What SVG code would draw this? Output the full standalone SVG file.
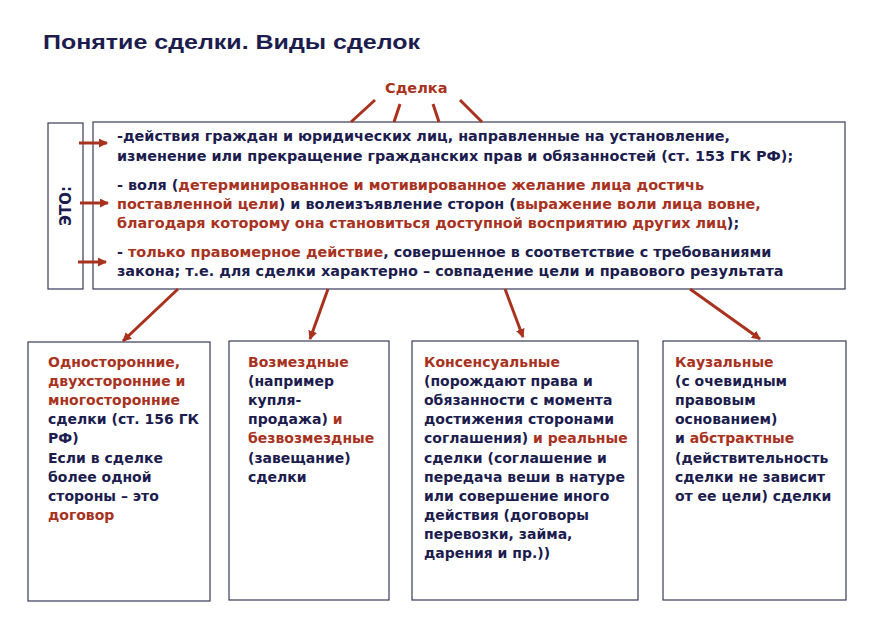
<svg xmlns="http://www.w3.org/2000/svg" width="891" height="630" viewBox="0 0 891 630">
<defs>
<marker id="ah" markerWidth="9" markerHeight="9" refX="8" refY="4.5" orient="auto" markerUnits="userSpaceOnUse"><path d="M0,0 L9,4.5 L0,9 Z" fill="#a8321e"/></marker>
<style>
text{font-family:"DejaVu Sans",Verdana,sans-serif;font-weight:bold;font-size:14px;fill:#1c1c4e}
.m{font-size:14.4px}
.r{fill:#a8321e}
.box{fill:#fff;stroke:#3a3a5a;stroke-width:1.2}
.ln{stroke:#a8321e;stroke-width:3;fill:none}
</style>
</defs>
<rect width="891" height="630" fill="#fff"/>
<text x="43" y="49" textLength="377" lengthAdjust="spacingAndGlyphs" style="font-size:21px;font-family:'Liberation Sans',Arial,sans-serif" fill="#1c1c4e">Понятие сделки. Виды сделок</text>
<g id="sdelka"><text x="385" y="93" class="r" style="font-size:14.5px">Сделка</text></g>
<g id="eto">
<rect class="box" x="48" y="123" width="35" height="166"/>
<text transform="translate(71,206) rotate(-90)" text-anchor="middle" style="font-size:15px">ЭТО:</text>
</g>
<g id="main">
<rect class="box" x="93" y="122" width="752" height="167"/>
<text class="m" x="117" y="141">-действия  граждан и юридических лиц, направленные на установление,</text>
<text class="m" x="117" y="161">изменение или прекращение гражданских прав и обязанностей (ст. 153 ГК РФ);</text>
<text class="m" x="117" y="190">- воля (<tspan class="r">детерминированное и мотивированное желание лица достичь</tspan></text>
<text class="m" x="117" y="209"><tspan class="r">поставленной цели</tspan>) и волеизъявление сторон (<tspan class="r">выражение воли лица вовне,</tspan></text>
<text class="m r" x="117" y="228">благодаря которому она становиться доступной восприятию других лиц<tspan fill="#1c1c4e">);</tspan></text>
<text class="m" x="117" y="257">- <tspan class="r">только правомерное действие</tspan>, совершенное в соответствие с требованиями</text>
<text class="m" x="117" y="276">закона; т.е. для сделки характерно – совпадение цели и правового результата</text>
</g>
<g id="b1">
<rect class="box" x="28" y="342" width="182" height="259"/>
<text x="48" y="367" class="r">Односторонние,</text>
<text x="48" y="386" class="r">двухсторонние и</text>
<text x="48" y="405" class="r">многосторонние</text>
<text x="48" y="424">сделки (ст. 156 ГК</text>
<text x="48" y="443">РФ)</text>
<text x="48" y="463">Если в сделке</text>
<text x="48" y="482">более одной</text>
<text x="48" y="501">стороны – это</text>
<text x="48" y="520" class="r">договор</text>
</g>
<g id="b2">
<rect class="box" x="229" y="341" width="160" height="259"/>
<text x="248" y="367" class="r">Возмездные</text>
<text x="248" y="386">(например</text>
<text x="248" y="405">купля-</text>
<text x="248" y="424">продажа) <tspan class="r">и</tspan></text>
<text x="248" y="443" class="r">безвозмездные</text>
<text x="248" y="463">(завещание)</text>
<text x="248" y="482">сделки</text>
</g>
<g id="b3">
<rect class="box" x="412" y="341" width="226" height="259"/>
<text x="424" y="367" class="r">Консенсуальные</text>
<text x="424" y="386">(порождают права и</text>
<text x="424" y="405">обязанности с момента</text>
<text x="424" y="424">достижения сторонами</text>
<text x="424" y="443">соглашения) <tspan class="r">и реальные</tspan></text>
<text x="424" y="463">сделки (соглашение и</text>
<text x="424" y="482">передача веши в натуре</text>
<text x="424" y="501">или совершение иного</text>
<text x="424" y="520">действия (договоры</text>
<text x="424" y="539">перевозки, займа,</text>
<text x="424" y="558">дарения и пр.))</text>
</g>
<g id="b4">
<rect class="box" x="663" y="341" width="183" height="259"/>
<text x="675" y="367" class="r">Каузальные</text>
<text x="675" y="386">(с очевидным</text>
<text x="675" y="405">правовым</text>
<text x="675" y="424">основанием)</text>
<text x="675" y="443">и <tspan class="r">абстрактные</tspan></text>
<text x="675" y="463">(действительность</text>
<text x="675" y="482">сделки не зависит</text>
<text x="675" y="501">от ее цели) сделки</text>
</g>
<g id="connectors">
<line class="ln" x1="375" y1="100" x2="351" y2="122"/>
<line class="ln" x1="400" y1="104" x2="394" y2="122"/>
<line class="ln" x1="433" y1="104" x2="439" y2="122"/>
<line class="ln" x1="460" y1="100" x2="482" y2="122"/>
<line class="ln" x1="79" y1="143" x2="107" y2="143" marker-end="url(#ah)"/>
<line class="ln" x1="80" y1="203" x2="108" y2="203" marker-end="url(#ah)"/>
<line class="ln" x1="78" y1="262" x2="106" y2="262" marker-end="url(#ah)"/>
<line class="ln" x1="178" y1="289" x2="123" y2="341" marker-end="url(#ah)"/>
<line class="ln" x1="328" y1="289" x2="310" y2="339" marker-end="url(#ah)"/>
<line class="ln" x1="505" y1="289" x2="523" y2="337" marker-end="url(#ah)"/>
<line class="ln" x1="690" y1="289" x2="760" y2="339" marker-end="url(#ah)"/>
</g>
</svg>
